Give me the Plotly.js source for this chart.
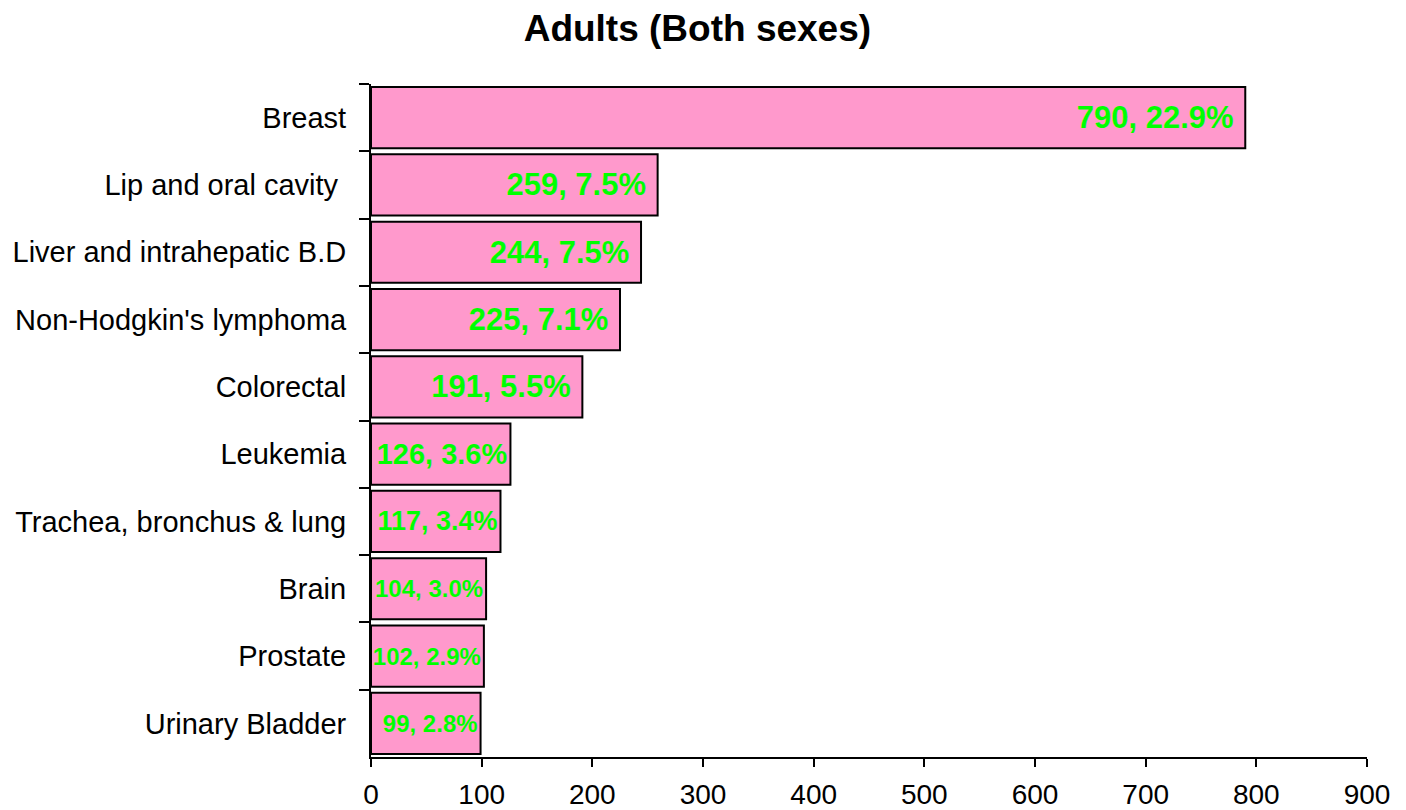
<!DOCTYPE html>
<html>
<head>
<meta charset="utf-8">
<script src="https://cdn.plot.ly/plotly-3.0.1.min.js"></script>
<style>html,body{margin:0;padding:0;background:#fff;}#chart{width:1406px;height:810px;}</style>
</head>
<body>
<div id="chart"></div>
<script>
const categories = ["Breast", "Lip and oral cavity ", "Liver and intrahepatic B.D", "Non-Hodgkin's lymphoma", "Colorectal", "Leukemia", "Trachea, bronchus & lung", "Brain", "Prostate", "Urinary Bladder"];
const cases = [790, 259, 244, 225, 191, 126, 117, 104, 102, 99];
const percents = ["22.9%", "7.5%", "7.5%", "7.1%", "5.5%", "3.6%", "3.4%", "3.0%", "2.9%", "2.8%"];
const labelSizes = [31, 31, 31, 31, 31, 29, 27, 24, 24, 24];
const xTicks = [0, 100, 200, 300, 400, 500, 600, 700, 800, 900];

const FONT = "Liberation Sans, Arial, Helvetica, sans-serif";
// large labels get a little right-hand breathing room like the original
const labels = cases.map((v, i) => v + ", " + percents[i] + (labelSizes[i] >= 31 ? "\u00a0" : ""));

const trace = {
  type: "bar",
  orientation: "h",
  x: cases,
  y: categories,
  text: labels,
  textposition: "inside",
  insidetextanchor: "end",
  textangle: 0,
  constraintext: "none",
  textfont: {family: FONT, size: labelSizes, color: "#00FF00", weight: "bold"},
  marker: {color: "#FF99CC", line: {color: "#000000", width: 2}},
  hoverinfo: "none"
};

const layout = {
  width: 1406,
  height: 810,
  margin: {l: 371, r: 39, t: 84, b: 53},
  paper_bgcolor: "#ffffff",
  plot_bgcolor: "#ffffff",
  showlegend: false,
  bargap: 0.09,
  font: {family: FONT, color: "#000000"},
  title: {
    text: "<b>Adults (Both sexes)</b>",
    font: {family: FONT, size: 37, color: "#000000"},
    xref: "container", x: 0.496, xanchor: "center",
    yref: "container", y: 1 - 28 / 810, yanchor: "middle"
  },
  xaxis: {
    range: [0, 900],
    tickvals: xTicks,
    ticktext: xTicks.map(String),
    showgrid: false,
    zeroline: false,
    showline: true,
    linecolor: "#000000",
    linewidth: 2,
    ticks: "outside",
    ticklen: 8,
    tickwidth: 2,
    tickcolor: "#000000",
    ticklabelstandoff: 3,
    tickfont: {family: FONT, size: 28, color: "#000000"},
    fixedrange: true
  },
  yaxis: {
    type: "category",
    categoryorder: "array",
    categoryarray: categories,
    autorange: "reversed",
    showgrid: false,
    zeroline: false,
    showline: true,
    linecolor: "#000000",
    linewidth: 2,
    ticks: "outside",
    tickson: "boundaries",
    ticklen: 10,
    tickwidth: 2,
    tickcolor: "#000000",
    ticklabelstandoff: 17,
    tickfont: {family: FONT, size: 29, color: "#000000"},
    fixedrange: true
  }
};

Plotly.newPlot("chart", [trace], layout, {displayModeBar: false, staticPlot: true});
</script>
</body>
</html>
